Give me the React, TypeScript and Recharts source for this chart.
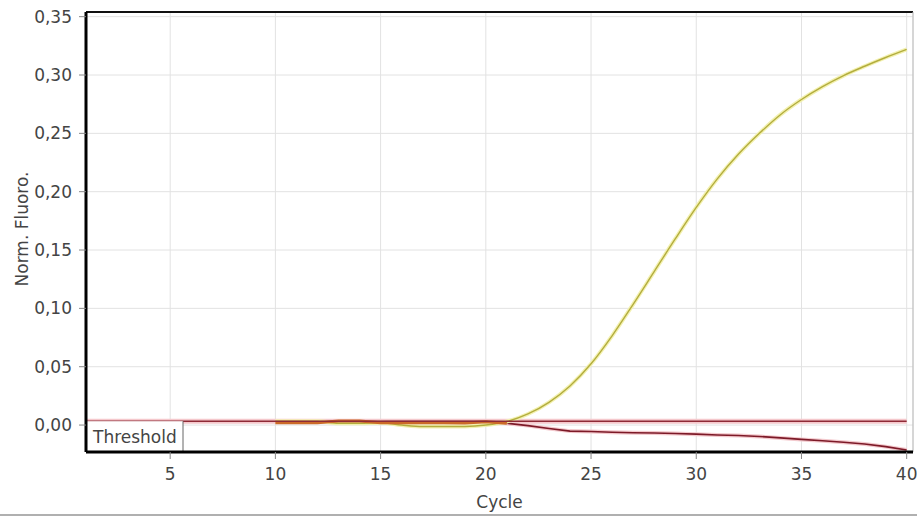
import { LineChart, Line, XAxis, YAxis, CartesianGrid, ReferenceLine } from 'recharts'

const cycles = [1, 2, 3, 4, 5, 6, 7, 8, 9, 10, 11, 12, 13, 14, 15, 16, 17, 18, 19, 20, 21, 22, 23, 24, 25, 26, 27, 28, 29, 30, 31, 32, 33, 34, 35, 36, 37, 38, 39, 40]

// yellow sample (amplifying)
const sampleA = [null, null, null, null, null, null, null, null, null, 0.0033, 0.0033, 0.0033, 0.0015, 0.0015, 0.002, 0.0, -0.0013, -0.0013, -0.0012, 0.0, 0.003, 0.0095, 0.0195, 0.0335, 0.0525, 0.0765, 0.1035, 0.1315, 0.1595, 0.1865, 0.211, 0.232, 0.250, 0.266, 0.279, 0.290, 0.2995, 0.3075, 0.315, 0.322]
// orange sample
const sampleB = [null, null, null, null, null, null, null, null, null, 0.002, 0.002, 0.002, 0.0034, 0.0034, 0.002, 0.002, 0.002, 0.0019, 0.0018, 0.0028, 0.0015, null, null, null, null, null, null, null, null, null, null, null, null, null, null, null, null, null, null, null]
// dark red sample (negative)
const sampleC = [null, null, null, null, null, null, null, null, null, 0.003, 0.003, 0.003, 0.003, 0.003, 0.003, 0.003, 0.003, 0.003, 0.003, 0.003, 0.0015, -0.0005, -0.003, -0.0052, -0.0055, -0.0062, -0.0066, -0.0068, -0.0072, -0.0078, -0.0085, -0.009, -0.0098, -0.011, -0.0123, -0.0135, -0.0148, -0.0162, -0.0185, -0.0214]
const thresholdValue = 0.0033

const xTicks = [5, 10, 15, 20, 25, 30, 35, 40]
const yTicks = [0, 0.05, 0.1, 0.15, 0.2, 0.25, 0.3, 0.35]

const data = cycles.map((c, i) => ({
  cycle: c,
  a: sampleA[i],
  b: sampleB[i],
  c: sampleC[i],
  threshold: thresholdValue,
}))

const FONT = '"DejaVu Sans", sans-serif'
const TXT = '#444'

function ThresholdBox(props: any) {
  const vb = props.viewBox || {}
  return (
    <g>
      <rect x={vb.x + 1} y={vb.y} width={96} height={31} fill="#fff" />
      <line x1={vb.x + 97} y1={vb.y} x2={vb.x + 97} y2={vb.y + 31} stroke="#666" strokeWidth={1} />
      <text x={vb.x + 7} y={vb.y + 22} fontSize={17} fontFamily={FONT} fill={TXT}>Threshold</text>
    </g>
  )
}

function XLabel(props: any) {
  const vb = props.viewBox || {}
  return (
    <text x={vb.x + vb.width / 2} y={vb.y + 55.5} textAnchor="middle" fontSize={17} fontFamily={FONT} fill={TXT}>Cycle</text>
  )
}

function YLabel() {
  return (
    <text x={28} y={229} transform="rotate(-90, 28, 229)" textAnchor="middle" fontSize={17} fontFamily={FONT} fill={TXT}>Norm. Fluoro.</text>
  )
}

const fmt = (v: number) => v.toFixed(2).replace('.', ',')

export default function App() {
  return (
    <div style={{ position: 'absolute', left: 0, top: 0, width: 917, height: 518, background: '#fff' }}>
      <style>{`body{margin:0}`}</style>
      <LineChart width={917} height={514} data={data} margin={{ top: 12, right: 4, left: 0, bottom: 12 }}>
        <CartesianGrid stroke="#e2e2e2" strokeWidth={1} />
        <XAxis
          dataKey="cycle"
          type="number"
          domain={[1, 40.3]}
          ticks={xTicks}
          allowDataOverflow
          height={50}
          tickSize={7}
          tickMargin={9}
          axisLine={{ stroke: '#000', strokeWidth: 3 }}
          tickLine={{ stroke: '#888' }}
          tick={{ fontSize: 17, fontFamily: FONT, fill: TXT }}
          label={<XLabel />}
        />
        <YAxis
          type="number"
          domain={[-0.0231, 0.354]}
          ticks={yTicks}
          allowDataOverflow
          width={86}
          tickSize={7}
          tickMargin={7}
          tickFormatter={fmt}
          axisLine={{ stroke: '#000', strokeWidth: 3 }}
          tickLine={{ stroke: '#888' }}
          tick={{ fontSize: 17, fontFamily: FONT, fill: TXT }}
          label={<YLabel />}
        />
        <ReferenceLine y={0.354} stroke="#111" strokeWidth={2} />
        <ReferenceLine x={40.3} stroke="#bbb" strokeWidth={1} />
        <Line dataKey="threshold" stroke="#f5c8cc" strokeWidth={5} dot={false} isAnimationActive={false} />
        <Line dataKey="c" stroke="#f3c9cd" strokeWidth={4} dot={false} isAnimationActive={false} />
        <Line dataKey="c" stroke="#7d1a28" strokeWidth={1.6} dot={false} isAnimationActive={false} />
        <Line type="monotone" dataKey="a" stroke="#f3f1b0" strokeWidth={4} dot={false} isAnimationActive={false} />
        <Line type="monotone" dataKey="a" stroke="#b3ad3e" strokeWidth={1.4} dot={false} isAnimationActive={false} />
        <Line dataKey="b" stroke="#cc6a28" strokeWidth={3} dot={false} isAnimationActive={false} />
        <Line dataKey="threshold" stroke="#8e2a36" strokeWidth={1.6} dot={false} isAnimationActive={false} />
        <ReferenceLine y={thresholdValue} stroke="none" label={<ThresholdBox />} />
      </LineChart>
      <div style={{ position: 'absolute', left: 0, top: 514, width: 917, height: 2, background: '#b0b0b0' }} />
    </div>
  )
}
